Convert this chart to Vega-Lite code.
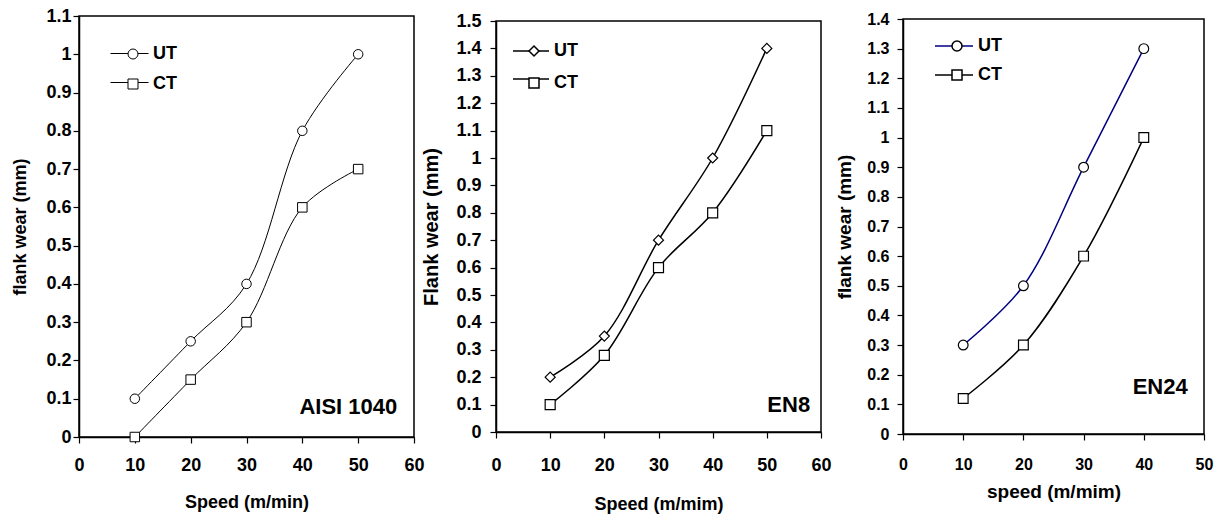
{
  "$schema": "https://vega.github.io/schema/vega-lite/v6.json",
  "background": "white",
  "padding": {"left": 11, "top": 6, "right": 0, "bottom": 0},
  "bounds": "flush",
  "center": true,
  "spacing": 82,
  "resolve": {"scale": {"shape": "independent", "color": "independent", "stroke": "independent", "x": "independent", "y": "independent"}, "legend": {"shape": "independent", "color": "independent", "stroke": "independent"}},
  "datasets": {
    "aisi": [
      {"speed": 10, "wear": 0.1, "series": "UT"},
      {"speed": 20, "wear": 0.25, "series": "UT"},
      {"speed": 30, "wear": 0.4, "series": "UT"},
      {"speed": 40, "wear": 0.8, "series": "UT"},
      {"speed": 50, "wear": 1.0, "series": "UT"},
      {"speed": 10, "wear": 0.0, "series": "CT"},
      {"speed": 20, "wear": 0.15, "series": "CT"},
      {"speed": 30, "wear": 0.3, "series": "CT"},
      {"speed": 40, "wear": 0.6, "series": "CT"},
      {"speed": 50, "wear": 0.7, "series": "CT"}
    ],
    "en8": [
      {"speed": 10, "wear": 0.2, "series": "UT"},
      {"speed": 20, "wear": 0.35, "series": "UT"},
      {"speed": 30, "wear": 0.7, "series": "UT"},
      {"speed": 40, "wear": 1.0, "series": "UT"},
      {"speed": 50, "wear": 1.4, "series": "UT"},
      {"speed": 10, "wear": 0.1, "series": "CT"},
      {"speed": 20, "wear": 0.28, "series": "CT"},
      {"speed": 30, "wear": 0.6, "series": "CT"},
      {"speed": 40, "wear": 0.8, "series": "CT"},
      {"speed": 50, "wear": 1.1, "series": "CT"}
    ],
    "en24": [
      {"speed": 10, "wear": 0.3, "series": "UT"},
      {"speed": 20, "wear": 0.5, "series": "UT"},
      {"speed": 30, "wear": 0.9, "series": "UT"},
      {"speed": 40, "wear": 1.3, "series": "UT"},
      {"speed": 10, "wear": 0.12, "series": "CT"},
      {"speed": 20, "wear": 0.3, "series": "CT"},
      {"speed": 30, "wear": 0.6, "series": "CT"},
      {"speed": 40, "wear": 1.0, "series": "CT"}
    ],
    "labels1": [{"speed": 57, "wear": 0.078, "label": "AISI 1040"}],
    "labels2": [{"speed": 58, "wear": 0.098, "label": "EN8"}],
    "labels3": [{"speed": 47.3, "wear": 0.158, "label": "EN24"}]
  },
  "hconcat": [
    {
      "width": 335,
      "height": 421,
      "encoding": {
        "x": {"field": "speed", "type": "quantitative",
          "scale": {"domain": [0, 60], "nice": false, "zero": false},
          "axis": {"title": "Speed (m/min)", "values": [0, 10, 20, 30, 40, 50, 60], "labelFontSize": 18, "titleFontSize": 18, "labelPadding": 13, "titlePadding": 19}},
        "y": {"field": "wear", "type": "quantitative",
          "scale": {"domain": [0, 1.1], "nice": false, "zero": false},
          "axis": {"title": "flank wear (mm)", "values": [0, 0.1, 0.2, 0.3, 0.4, 0.5, 0.6, 0.7, 0.8, 0.9, 1, 1.1], "format": ".1~f", "labelFontSize": 18, "titleFontSize": 18, "labelPadding": 2, "titlePadding": 16}}
      },
      "layer": [
        {
          "data": {"name": "aisi"},
          "mark": {"type": "line", "interpolate": "catmull-rom", "strokeWidth": 1},
          "encoding": {
            "color": {"field": "series", "type": "nominal", "sort": "descending", "scale": {"range": ["black", "black"]},
              "legend": {"title": null, "orient": "none", "legendX": 31, "legendY": 18, "padding": 0, "zindex": 1,
                "symbolType": "stroke", "symbolSize": 1444, "symbolStrokeWidth": 1,
                "labelExpr": "''", "labelOpacity": 0, "labelFontSize": 18, "rowPadding": -8}}
          }
        },
        {
          "data": {"name": "aisi"},
          "mark": {"type": "point", "filled": true, "fill": "white", "strokeWidth": 1, "opacity": 1, "size": 90},
          "encoding": {
            "shape": {"field": "series", "type": "nominal",
              "scale": {"domain": ["UT", "CT"], "range": ["circle", "square"]},
              "legend": {"title": null, "orient": "none", "legendX": 45, "legendY": 29, "padding": 0, "zindex": 2,
                "symbolSize": 100, "symbolFillColor": "white", "symbolStrokeWidth": 1, "symbolOpacity": 1,
                "labelFont": "Liberation Sans", "labelFontSize": 18, "labelFontWeight": "bold", "labelColor": "black",
                "labelOffset": 11, "rowPadding": 12}
            },
            "stroke": {"field": "series", "type": "nominal",
              "scale": {"domain": ["UT", "CT"], "range": ["black", "black"]},
              "legend": {"title": null, "orient": "none", "legendX": 45, "legendY": 29, "padding": 0, "zindex": 2,
                "symbolSize": 100, "symbolFillColor": "white", "symbolStrokeWidth": 1, "symbolOpacity": 1,
                "labelFont": "Liberation Sans", "labelFontSize": 18, "labelFontWeight": "bold", "labelColor": "black",
                "labelOffset": 11, "rowPadding": 12}
            }
          }
        },
        {
          "data": {"name": "labels1"},
          "mark": {"type": "text", "align": "right", "baseline": "middle", "fontSize": 22, "fontWeight": "bold", "color": "black"},
          "encoding": {"text": {"field": "label"}}
        }
      ]
    },
    {
      "width": 325,
      "height": 411,
      "encoding": {
        "x": {"field": "speed", "type": "quantitative",
          "scale": {"domain": [0, 60], "nice": false, "zero": false},
          "axis": {"title": "Speed (m/mim)", "values": [0, 10, 20, 30, 40, 50, 60], "labelFontSize": 18, "titleFontSize": 18, "labelPadding": 18, "titlePadding": 21}},
        "y": {"field": "wear", "type": "quantitative",
          "scale": {"domain": [0, 1.5], "nice": false, "zero": false},
          "axis": {"title": "Flank wear (mm)", "values": [0, 0.1, 0.2, 0.3, 0.4, 0.5, 0.6, 0.7, 0.8, 0.9, 1, 1.1, 1.2, 1.3, 1.4, 1.5], "format": ".1~f", "labelFontSize": 18, "titleFontSize": 20, "labelPadding": 9, "titlePadding": 14}}
      },
      "layer": [
        {
          "data": {"name": "en8"},
          "mark": {"type": "line", "interpolate": "catmull-rom", "strokeWidth": 1.5},
          "encoding": {
            "color": {"field": "series", "type": "nominal", "sort": "descending", "scale": {"range": ["black", "black"]},
              "legend": {"title": null, "orient": "none", "legendX": 16, "legendY": 11, "padding": 0, "zindex": 1,
                "symbolType": "stroke", "symbolSize": 1296, "symbolStrokeWidth": 1.5,
                "labelExpr": "''", "labelOpacity": 0, "labelFontSize": 18, "rowPadding": -4}}
          }
        },
        {
          "data": {"name": "en8"},
          "mark": {"type": "point", "filled": true, "fill": "white", "strokeWidth": 1.2, "opacity": 1, "size": 100},
          "encoding": {
            "shape": {"field": "series", "type": "nominal",
              "scale": {"domain": ["UT", "CT"], "range": ["diamond", "square"]},
              "legend": {"title": null, "orient": "none", "legendX": 29, "legendY": 21, "padding": 0, "zindex": 2,
                "symbolSize": 100, "symbolFillColor": "white", "symbolStrokeWidth": 1.5, "symbolOpacity": 1,
                "labelFont": "Liberation Sans", "labelFontSize": 18, "labelFontWeight": "bold", "labelColor": "black",
                "labelOffset": 11, "rowPadding": 14}
            },
            "stroke": {"field": "series", "type": "nominal",
              "scale": {"domain": ["UT", "CT"], "range": ["black", "black"]},
              "legend": {"title": null, "orient": "none", "legendX": 29, "legendY": 21, "padding": 0, "zindex": 2,
                "symbolSize": 100, "symbolFillColor": "white", "symbolStrokeWidth": 1.5, "symbolOpacity": 1,
                "labelFont": "Liberation Sans", "labelFontSize": 18, "labelFontWeight": "bold", "labelColor": "black",
                "labelOffset": 11, "rowPadding": 14}
            }
          }
        },
        {
          "data": {"name": "labels2"},
          "mark": {"type": "text", "align": "right", "baseline": "middle", "fontSize": 22, "fontWeight": "bold", "color": "black"},
          "encoding": {"text": {"field": "label"}}
        }
      ]
    },
    {
      "width": 301,
      "height": 415,
      "encoding": {
        "x": {"field": "speed", "type": "quantitative",
          "scale": {"domain": [0, 50], "nice": false, "zero": false},
          "axis": {"title": "speed (m/mim)", "values": [0, 10, 20, 30, 40, 50], "labelFontSize": 16, "titleFontSize": 19, "labelPadding": 16, "titlePadding": 10}},
        "y": {"field": "wear", "type": "quantitative",
          "scale": {"domain": [0, 1.4], "nice": false, "zero": false},
          "axis": {"title": "flank wear (mm)", "values": [0, 0.1, 0.2, 0.3, 0.4, 0.5, 0.6, 0.7, 0.8, 0.9, 1, 1.1, 1.2, 1.3, 1.4], "format": ".1~f", "labelFontSize": 16, "titleFontSize": 19, "labelPadding": 8, "titlePadding": 12}}
      },
      "layer": [
        {
          "data": {"name": "en24"},
          "mark": {"type": "line", "interpolate": "catmull-rom", "strokeWidth": 1.5},
          "encoding": {
            "color": {"field": "series", "type": "nominal", "sort": "descending", "scale": {"range": ["#000080", "black"]},
              "legend": {"title": null, "orient": "none", "legendX": 31, "legendY": 7, "padding": 0, "zindex": 1,
                "symbolType": "stroke", "symbolSize": 1444, "symbolStrokeWidth": 1.5,
                "labelExpr": "''", "labelOpacity": 0, "labelFontSize": 18, "rowPadding": -10}}
          }
        },
        {
          "data": {"name": "en24"},
          "mark": {"type": "point", "filled": true, "fill": "white", "strokeWidth": 1.2, "opacity": 1, "size": 95},
          "encoding": {
            "shape": {"field": "series", "type": "nominal",
              "scale": {"domain": ["UT", "CT"], "range": ["circle", "square"]},
              "legend": {"title": null, "orient": "none", "legendX": 45, "legendY": 18, "padding": 0, "zindex": 2,
                "symbolSize": 100, "symbolFillColor": "white", "symbolStrokeWidth": 1.5, "symbolOpacity": 1,
                "labelFont": "Liberation Sans", "labelFontSize": 18, "labelFontWeight": "bold", "labelColor": "black",
                "labelOffset": 12, "rowPadding": 11}
            },
            "stroke": {"field": "series", "type": "nominal",
              "scale": {"domain": ["UT", "CT"], "range": ["black", "black"]},
              "legend": {"title": null, "orient": "none", "legendX": 45, "legendY": 18, "padding": 0, "zindex": 2,
                "symbolSize": 100, "symbolFillColor": "white", "symbolStrokeWidth": 1.5, "symbolOpacity": 1,
                "labelFont": "Liberation Sans", "labelFontSize": 18, "labelFontWeight": "bold", "labelColor": "black",
                "labelOffset": 12, "rowPadding": 11}
            }
          }
        },
        {
          "data": {"name": "labels3"},
          "mark": {"type": "text", "align": "right", "baseline": "middle", "fontSize": 22, "fontWeight": "bold", "color": "black"},
          "encoding": {"text": {"field": "label"}}
        }
      ]
    }
  ],
  "config": {
    "font": "Liberation Sans",
    "view": {"stroke": "black", "strokeWidth": 1.5},
    "axis": {"grid": false, "domainColor": "black", "domainWidth": 1.5, "tickColor": "black", "tickSize": 6, "tickWidth": 1.2,
      "labelColor": "black", "titleColor": "black", "labelFontWeight": "bold", "titleFontWeight": "bold",
      "labelFont": "Liberation Sans", "titleFont": "Liberation Sans", "labelOverlap": false, "labelFlush": false}
  }
}
